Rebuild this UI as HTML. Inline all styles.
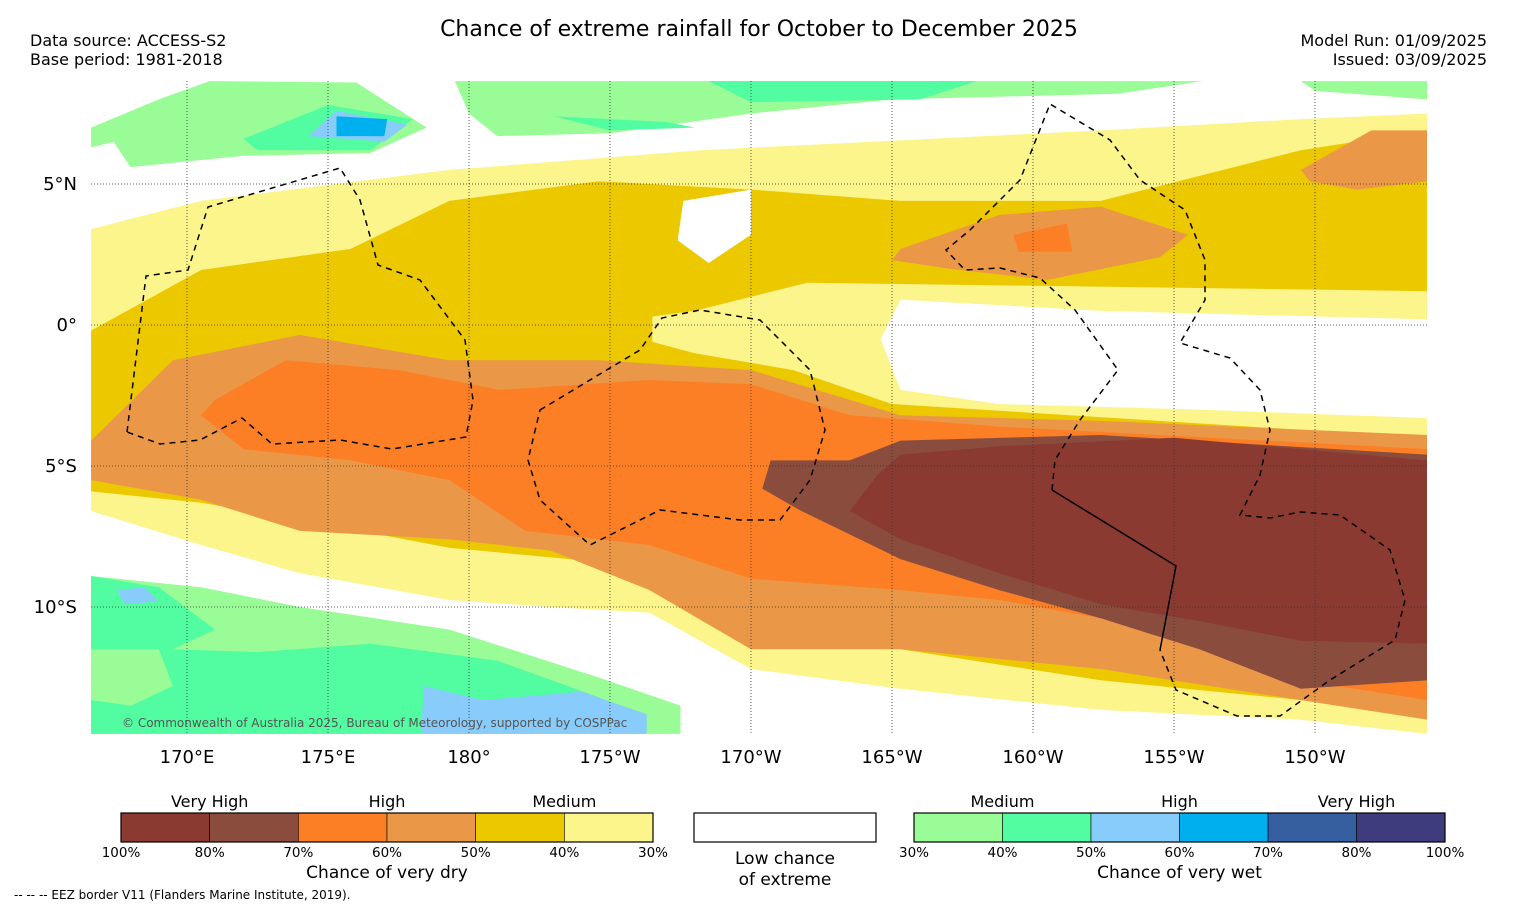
<!DOCTYPE html>
<html><head><meta charset="utf-8">
<style>
html,body{margin:0;padding:0;background:#fff;}
body{width:1517px;height:908px;overflow:hidden;font-family:"DejaVu Sans","Liberation Sans",sans-serif;}
svg text{font-family:"DejaVu Sans","Liberation Sans",sans-serif;fill:#000;}
</style></head>
<body>
<svg id="chart" width="1517" height="908" xmlns="http://www.w3.org/2000/svg">
<text x="759" y="36" font-size="22" text-anchor="middle">Chance of extreme rainfall for October to December 2025</text>
<text x="30" y="46" font-size="16">Data source: ACCESS-S2</text>
<text x="30" y="65" font-size="16">Base period: 1981-2018</text>
<text x="1487" y="46" font-size="16" text-anchor="end">Model Run: 01/09/2025</text>
<text x="1487" y="65" font-size="16" text-anchor="end">Issued: 03/09/2025</text>
<defs><clipPath id="mapclip"><rect x="91" y="81" width="1336" height="653"/></clipPath></defs>
<g id="map" clip-path="url(#mapclip)"></g>
<g id="grid"></g>
<g id="eez" fill="none" stroke="#000" stroke-width="1.5" stroke-dasharray="6,5" clip-path="url(#mapclip)">
<path d="M127,432 L146,276 L188,270 L208,207 L340,168 L360,200 L378,265 L420,280 L465,340 L473,400 L466,437 L392,449 L340,440 L272,444 L242,418 L200,440 L160,444 Z"/>
<path d="M540,410 L640,350 L662,318 L700,310 L760,320 L810,370 L825,430 L810,480 L780,520 L740,520 L660,510 L590,545 L540,500 L528,460 Z"/>
<path d="M1052,490 L1055,460 L1080,420 L1118,370 L1075,310 L1040,278 L1000,268 L965,270 L946,250 L970,230 L1020,180 L1050,104 L1110,140 L1140,180 L1185,210 L1205,260 L1205,300 L1180,343 L1230,358 L1260,390 L1270,430 L1260,475 L1240,515 L1270,518 L1300,512 L1340,515 L1390,550 L1405,600 L1395,640 L1330,680 L1280,716 L1237,716 L1176,690 L1160,650"/>
<path d="M1052,490 L1176,566 L1160,650" stroke-dasharray="none"/>
</g>
<text x="122" y="727" font-size="12" style="fill:#555">© Commonwealth of Australia 2025, Bureau of Meteorology, supported by COSPPac</text>
<g id="xticks"></g>
<g id="yticks"></g>
<g id="cbars"></g>
<text x="14" y="899" font-size="12">--  --  -- EEZ border V11 (Flanders Marine Institute, 2019).</text>
</svg>
<script>
// ---- data ----
const lonTicks=[170,175,180,185,190,195,200,205,210];
const lonTickLabels=["170°E","175°E","180°","175°W","170°W","165°W","160°W","155°W","150°W"];
const latTicks=[5,0,-5,-10];
const latTickLabels=["5°N","0°","5°S","10°S"];
const dryColors=["#8B3A32","#8A4D3D","#FD7F25","#EA9848","#ECC800","#FCF58C"];
const dryLabels=["100%","80%","70%","60%","50%","40%","30%"];
const wetColors=["#9AFC96","#52FCA0","#87CCFA","#00B0EE","#365FA0","#3E3C7C"];
const wetLabels=["30%","40%","50%","60%","70%","80%","100%"];
const catLabels=["Very High","High","Medium"];
const wetCatLabels=["Medium","High","Very High"];
// contour regions (lon east, lat)
const bandYellow=[[166.6,3.4],[170.5,4.4],[179.3,5.5],[188.2,6.2],[202.4,6.9],[209.5,7.3],[214,7.5],[214,-14.5],[209.5,-14],[202.4,-13.65],[195.3,-12.9],[190,-12.2],[186.4,-10.2],[182.9,-10.0],[179.3,-9.75],[174,-8.8],[170.5,-7.8],[166.6,-6.6]];
const bandGold=[[166.6,-0.2],[170.5,1.95],[175.8,2.7],[179.3,4.4],[184.6,5.1],[190,4.8],[195.3,4.4],[202.4,4.4],[209.5,6.2],[214,6.9],[214,-13.65],[209.5,-13.3],[202.4,-12.6],[195.3,-11.5],[190,-11.2],[186.4,-8.8],[184.6,-8.4],[179.3,-7.9],[174,-6.9],[170.5,-6.3],[166.6,-5.9]];
const bandYellowMid=[[186.5,0.3],[188,0.5],[192,1.5],[214,1.2],[214,-4.0],[195,-2.8],[191.5,-1.6],[188,-1.0],[186.5,-0.6]];
const bandWhiteMid=[[195.3,0.9],[202.4,0.5],[214,0.2],[214,-3.3],[205.9,-3.0],[198.8,-2.8],[195.3,-2.3],[194.6,-0.5]];
const bandWhiteSmall=[[187.6,4.4],[190,4.8],[190,3.2],[188.5,2.2],[187.4,3.0]];
const bandLtOrange=[[166.6,-4.1],[169.5,-1.25],[174,-0.35],[179.3,-1.25],[184.6,-1.25],[190,-1.6],[195.3,-3.2],[202.4,-3.4],[214,-3.9],[214,-14],[209.5,-13.3],[202.4,-12.2],[195.3,-11.5],[190,-11.5],[186.4,-9.4],[182.9,-8.0],[179.3,-7.6],[174,-7.3],[170.5,-6.2],[166.6,-5.5]];
const bandOrange=[[171,-2.65],[173.5,-1.25],[177.5,-1.6],[181.1,-2.3],[186.4,-1.95],[190,-2.1],[193.5,-3.2],[198.8,-3.6],[214,-4.4],[214,-13.3],[209.5,-12.6],[205.9,-11.2],[202.4,-10.4],[198.8,-9.75],[195.3,-9.4],[190,-9.0],[186.4,-7.8],[182,-7.3],[179.3,-5.5],[175.8,-4.8],[172,-4.4],[170.5,-3.2]];
const bandLtBrown=[[190.7,-4.8],[193.5,-4.8],[195.3,-4.1],[202.4,-3.9],[214,-4.6],[214,-12.6],[209.5,-12.9],[205.9,-11.5],[202.4,-10.4],[198.8,-9.4],[195.3,-8.3],[191.7,-6.55],[190.4,-5.8]];
const bandDkBrown=[[195.3,-4.6],[198.8,-4.3],[205,-4.0],[214,-4.8],[214,-11.3],[209.5,-11.2],[205.9,-10.5],[202.4,-9.9],[198.8,-8.8],[195.3,-7.6],[193.5,-6.6],[194.5,-5.3]];
const bandLtOrangeNE=[[209.5,5.5],[212,6.9],[214,6.9],[214,5.1],[211.5,4.8],[209.8,5.1]];
const bandLtOrangeN=[[195.3,2.7],[198.8,3.9],[202.4,4.2],[205.5,3.2],[204.5,2.4],[200.5,1.6],[197,2.0],[195,2.3]];
const bandOrangeN=[[199.3,3.2],[201.2,3.6],[201.4,2.6],[199.5,2.6]];
const bandGreenNW=[[166.6,7.0],[169,8.0],[170.8,8.65],[176,8.6],[178.5,7.0],[176.5,6.1],[172,6.0],[168,5.6],[167.4,6.5],[166.6,6.3]];
const bandMintNW=[[172,6.6],[175,7.8],[178,7.3],[176.5,6.2],[172.5,6.2]];
const bandBlueNW=[[174.3,6.7],[175.3,7.6],[177.8,7.1],[177,6.5]];
const bandDeepBlueNW=[[175.3,6.7],[175.3,7.4],[177.1,7.3],[177,6.7]];
const bandGreenN=[[179.5,8.65],[206,8.65],[203,8.2],[195,8.0],[190,7.5],[185,6.8],[181,6.7],[180,7.5]];
const bandMintN=[[183,7.4],[187,7.2],[188,7.0],[185,6.9]];
const bandMintN2=[[188.5,8.65],[198,8.65],[196,8.0],[190,7.9]];
const bandGreenNE=[[209.5,8.65],[214,8.65],[214,8.0],[210,8.3]];
const bandGreenSW=[[166.6,-8.9],[170.5,-9.3],[174,-10],[179.3,-10.8],[184.6,-12.5],[187.5,-13.5],[187.5,-14.5],[166.6,-14.5]];
const bandMintSW=[[166.6,-8.9],[169,-9.3],[171,-10.8],[169.5,-11.5],[172.5,-11.6],[176.5,-11.3],[181,-11.9],[184.6,-13.2],[186.3,-14.5],[166.6,-14.5]];
const bandGreenSWin=[[166.6,-11.5],[169,-11.5],[169.5,-12.8],[168,-13.5],[166.6,-13.3]];
const bandBlueSW=[[178.3,-14.5],[178.4,-12.8],[180.5,-13.3],[184,-13],[186.3,-13.8],[186.3,-14.5]];
const bandBlueSW2=[[167.5,-9.4],[168.5,-9.3],[169,-9.8],[167.8,-9.9]];

// ---- axes ----
const X0=91,X1=1427,Y0=81,Y1=734;
function x(lon){return 187+(lon-170)*28.2;}
function y(lat){return 325-lat*28.2;}
const NS="http://www.w3.org/2000/svg";
function mk(tag,attrs,parent){const e=document.createElementNS(NS,tag);for(const k in attrs)e.setAttribute(k,attrs[k]);parent.appendChild(e);return e;}
const map=document.getElementById('map');
function poly(pts,color,name){
  const p=mk('polygon',{points:pts.map(q=>x(q[0]).toFixed(1)+','+y(q[1]).toFixed(1)).join(' '),fill:color},map);
  
  
}
poly(bandYellow,"#FCF58C","region-30-40-dry");
poly(bandGold,"#ECC800","region-40-50-dry");
poly(bandYellowMid,"#FCF58C","region-30-40-dry-mid");
poly(bandWhiteMid,"#FFFFFF","region-low-chance-mid");
poly(bandWhiteSmall,"#FFFFFF","region-low-chance-small");
poly(bandLtOrange,"#EA9848","region-50-60-dry");
poly(bandOrange,"#FD7F25","region-60-70-dry");
poly(bandLtBrown,"#8A4D3D","region-70-80-dry");
poly(bandDkBrown,"#8B3A32","region-80-100-dry");
poly(bandLtOrangeNE,"#EA9848","region-50-60-dry-ne");
poly(bandLtOrangeN,"#EA9848","region-50-60-dry-n");
poly(bandOrangeN,"#FD7F25","region-60-70-dry-n");
poly(bandGreenNW,"#9AFC96","region-30-40-wet-nw");
poly(bandMintNW,"#52FCA0","region-40-50-wet-nw");
poly(bandBlueNW,"#87CCFA","region-50-60-wet-nw");
poly(bandDeepBlueNW,"#00B0EE","region-60-70-wet-nw");
poly(bandGreenN,"#9AFC96","region-30-40-wet-n");
poly(bandMintN,"#52FCA0","region-40-50-wet-n");
poly(bandMintN2,"#52FCA0","region-40-50-wet-n2");
poly(bandGreenNE,"#9AFC96","region-30-40-wet-ne");
poly(bandGreenSW,"#9AFC96","region-30-40-wet-sw");
poly(bandMintSW,"#52FCA0","region-40-50-wet-sw");
poly(bandGreenSWin,"#9AFC96","region-30-40-wet-sw-inner");
poly(bandBlueSW,"#87CCFA","region-50-60-wet-sw");
poly(bandBlueSW2,"#87CCFA","region-50-60-wet-sw2");

// graticule and ticks
const grid=document.getElementById('grid'), xt=document.getElementById('xticks'), yt=document.getElementById('yticks');
lonTicks.forEach((lon,i)=>{
  const l=mk('line',{x1:x(lon),x2:x(lon),y1:Y0,y2:Y1,stroke:'#333','stroke-width':0.8,'stroke-dasharray':'1,2'},grid);
  
  
  const t=mk('text',{x:x(lon),y:763,'font-size':18,'text-anchor':'middle'},xt);
  t.textContent=lonTickLabels[i];
  
  
});
latTicks.forEach((lat,i)=>{
  const l=mk('line',{x1:X0,x2:X1,y1:y(lat),y2:y(lat),stroke:'#333','stroke-width':0.8,'stroke-dasharray':'1,2'},grid);
  
  
  const t=mk('text',{x:77,y:y(lat)+6,'font-size':18,'text-anchor':'end'},yt);
  t.textContent=latTickLabels[i];
  
  
});

// colorbars
const cb=document.getElementById('cbars');
function colorbar(x0,x1,colors,labels,cats,title,nm){
  const w=(x1-x0)/colors.length;
  colors.forEach((c,i)=>{
    const r=mk('rect',{x:x0+i*w,y:813,width:w,height:29,fill:c,stroke:'#000','stroke-width':0.6},cb);
    
    
  });
  mk('rect',{x:x0,y:813,width:x1-x0,height:29,fill:'none',stroke:'#000','stroke-width':1.2},cb);
  labels.forEach((s,i)=>{
    const t=mk('text',{x:x0+i*w,y:857,'font-size':13.5,'text-anchor':'middle'},cb);
    t.textContent=s;
    
    
  });
  cats.forEach((s,i)=>{
    const t=mk('text',{x:x0+(2*i+1)*w,y:807,'font-size':16,'text-anchor':'middle'},cb);
    t.textContent=s;
    
    
  });
  const t=mk('text',{x:(x0+x1)/2,y:878,'font-size':17,'text-anchor':'middle'},cb);
  t.textContent=title;
  
  
}
colorbar(121,653,dryColors,dryLabels,catLabels,"Chance of very dry","dry-colorbar");
colorbar(914,1445,wetColors,wetLabels,wetCatLabels,"Chance of very wet","wet-colorbar");
const wb=mk('rect',{x:694,y:813,width:182,height:29,fill:'#fff',stroke:'#000','stroke-width':1.2},cb);


const l1=mk('text',{x:785,y:864,'font-size':17,'text-anchor':'middle'},cb);l1.textContent="Low chance";


const l2=mk('text',{x:785,y:885,'font-size':17,'text-anchor':'middle'},cb);l2.textContent="of extreme";


</script>
</body></html>
